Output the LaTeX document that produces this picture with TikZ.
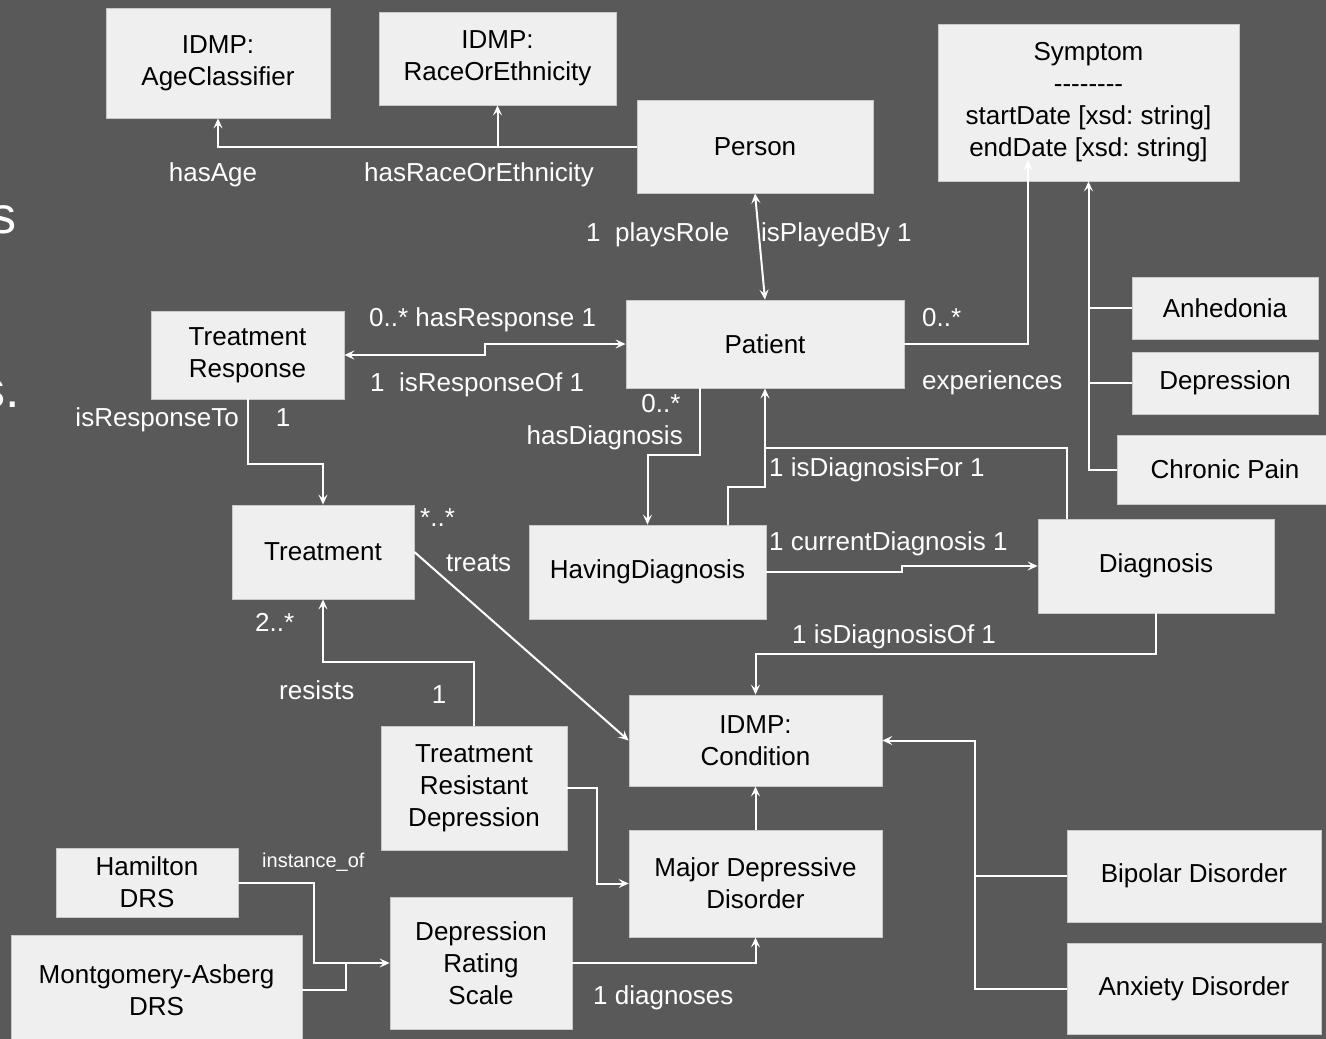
\documentclass[tikz,border=0pt]{standalone}
\usepackage{fontspec}
\setmainfont{Liberation Sans}
\usetikzlibrary{arrows.meta,calc}
\definecolor{bg}{HTML}{595959}
\definecolor{boxfill}{HTML}{EFEFEF}
\definecolor{boxline}{HTML}{C8C8C8}
\newcommand{\hy}{-\kern0pt}
\begin{document}
\frenchspacing
\begin{tikzpicture}[x=1pt,y=-1pt,
  box/.style={draw=boxline, line width=0.8pt, fill=boxfill, text=black, align=center, inner sep=0pt, font=\fontsize{26}{32}\selectfont},
  sz/.style 2 args={minimum width=#1pt, minimum height=#2pt},
  lbl/.style={text=white, inner sep=0pt, font=\fontsize{26}{32}\selectfont, text height=18.7pt, text depth=0pt},
  smalllbl/.style={text=white, inner sep=0pt, font=\fontsize{20}{24}\selectfont, text height=14.4pt, text depth=0pt},
  bigtxt/.style={text=white, inner sep=0pt, font=\fontsize{52}{60}\selectfont, anchor=base east},
  ln/.style={draw=white, line width=2pt},
  arr/.style={ln, -{Stealth[length=10pt,width=9pt,inset=4pt]}},
  darr/.style={ln, {Stealth[length=10pt,width=9pt,inset=4pt]}-{Stealth[length=10pt,width=9pt,inset=4pt]}}
]
\fill[bg] (0,0) rectangle (1326,1039);
\useasboundingbox (0,0) rectangle (1326,1039);

% cut-off text at the left edge
\node[bigtxt] (s1) at (17,233) {s};
\node[bigtxt] (s2) at (20,407) {s.};

% boxes
\node[box, sz={224}{110}] (age) at (218,63) {IDMP:\\AgeClassifier};
\node[box, sz={237}{93}] (race) at (497.5,58.5) {IDMP:\\RaceOrEthnicity};
\node[box, sz={236}{93}] (person) at (755,146.5) {Person};
\node[box, sz={301}{157}] (symptom) at (1088.5,102.5) {\raisebox{0pt}[0pt][0pt]{}Symptom\\\hy\hy\hy\hy\hy\hy\hy\hy\\startDate [xsd: string]\\ endDate [xsd: string]};
\node[box, sz={186}{62}] (anhedonia) at (1225,308) {Anhedonia};
\node[box, sz={186}{62}] (depression) at (1225,383) {Depression};
\node[box, sz={216}{69}] (chronic) at (1225,469.5) {Chronic Pain};
\node[box, sz={278}{88}] (patient) at (765,344) {Patient};
\node[box, sz={193}{88}] (tresp) at (247.5,355) {Treatment\\Response};
\node[box, sz={182}{94}] (treatment) at (323,552) {Treatment};
\node[box, sz={237}{94}] (hd) at (647.5,572) {HavingDiagnosis};
\node[box, sz={236}{94}] (diagnosis) at (1156,566) {Diagnosis};
\node[box, sz={253}{91}] (condition) at (755.5,740.5) {IDMP:\\Condition};
\node[box, sz={186}{124}] (trd) at (474,788) {Treatment\\Resistant\\Depression};
\node[box, sz={253}{107}] (mdd) at (755.5,883.5) {Major Depressive\\Disorder};
\node[box, sz={182}{69}] (hamilton) at (147,882.5) {Hamilton\\DRS};
\node[box, sz={291}{109}] (montgomery) at (156.5,990) {Montgomery-Asberg\\DRS};
\node[box, sz={182}{132}] (drs) at (481,963) {Depression\\Rating\\Scale};
\node[box, sz={254}{92}] (bipolar) at (1194,876) {Bipolar Disorder};
\node[box, sz={254}{91}] (anxiety) at (1194,988.5) {Anxiety Disorder};

% connectors
\draw[arr] (person.west) -| (age.south);
\draw[arr] (race.south |- person.west) -- (race.south);
\draw[darr] (person.south) -- (patient.north);
\draw[darr] (tresp.east) -- ++(141,0) |- (patient.west);
\draw[arr] (tresp.south) -- ++(0,65) -| (treatment.north);
\draw[arr] (treatment.east) -- (condition.west);
\draw[arr] ($(patient.south)+(-65,0)$) -- ++(0,67) -| (hd.north);
\draw[arr] ($(hd.north)+(80,0)$) -- ++(0,-38) -| (patient.south);
\coordinate (dj) at ($(patient.south)+(0,60)$);
\draw[ln] ($(diagnosis.north)+(-89,0)$) |- (dj);
\draw[arr] (hd.east) -- ++(136,0) |- (diagnosis.west);
\draw[arr] (diagnosis.south) -- ++(0,41) -| (condition.north);
\draw[arr] (trd.north) -- ++(0,-64) -| (treatment.south);
\draw[arr] (trd.east) -- ++(30,0) |- (mdd.west);
\draw[arr] (mdd.north) -- (condition.south);
\coordinate (cj) at ($(anxiety.west)+(-92,0)$);
\draw[arr] (anxiety.west) -- (cj) |- (condition.east);
\draw[ln] (bipolar.west) -- (bipolar.west -| cj);
\draw[arr] (hamilton.east) -- ++(76,0) |- (drs.west);
\draw[ln] (montgomery.east) -| ($(drs.west)+(-44,0)$);
\draw[arr] (drs.east) -| (mdd.south);
\draw[arr] (patient.east) -| ($(symptom.south)+(-60.5,-21)$);
\draw[arr] (chronic.west) -| (symptom.south);
\draw[ln] (anhedonia.west) -- (anhedonia.west -| symptom.south);
\draw[ln] (depression.west) -- (depression.west -| symptom.south);

% labels
\node[lbl] (l1) at (213,172) {hasAge};
\node[lbl] (l2) at (479,172) {hasRaceOrEthnicity};
\node[lbl, anchor=west] (l3) at (586,232) {1\ \ playsRole};
\node[lbl, anchor=west] (l4) at (761,232) {isPlayedBy 1};
\node[lbl, anchor=west] (l5) at (369,317) {0..* hasResponse 1};
\node[lbl, anchor=west] (l6) at (370,382) {1\ \ isResponseOf 1};
\node[lbl, anchor=east] (l7) at (239,417) {isResponseTo};
\node[lbl] (l8) at (283,417) {1};
\node[lbl, anchor=west] (l9) at (922,317) {0..*};
\node[lbl, anchor=west] (l10) at (922,380) {experiences};
\node[lbl] (l11) at (661,403) {0..*};
\node[lbl, anchor=east] (l12) at (683,435) {hasDiagnosis};
\node[lbl, anchor=west] (l13) at (769,467) {1 isDiagnosisFor 1};
\node[lbl, anchor=west] (l14) at (420,517) {*..*};
\node[lbl, anchor=west] (l15) at (446,562) {treats};
\node[lbl, anchor=west] (l16) at (769,541) {1 currentDiagnosis 1};
\node[lbl, anchor=west] (l17) at (792,634) {1 isDiagnosisOf 1};
\node[lbl, anchor=west] (l18) at (255,622) {2..*};
\node[lbl, anchor=west] (l19) at (279,690) {resists};
\node[lbl] (l20) at (439,694) {1};
\node[smalllbl, anchor=west] (l21) at (262,860) {instance\_of};
\node[lbl, anchor=west] (l22) at (593,995) {1 diagnoses};
\end{tikzpicture}
\end{document}
